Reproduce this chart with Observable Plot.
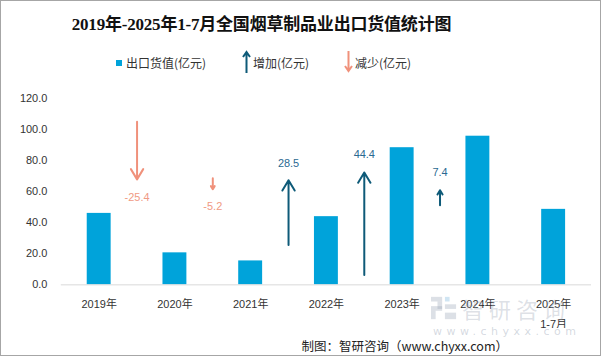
<!DOCTYPE html>
<html><head><meta charset="utf-8">
<script src="https://cdn.jsdelivr.net/npm/d3@7"></script>
<script src="https://cdn.jsdelivr.net/npm/@observablehq/plot@0.6"></script>
<style>
body{margin:0;background:#fff;}
#wrap{position:relative;width:601px;height:356px;box-sizing:border-box;border:1px solid #a6a6a6;overflow:hidden;font-family:"Noto Sans CJK SC","Noto Sans",sans-serif;}
#title{position:absolute;left:-40px;width:601px;top:9px;text-align:center;font-family:"Liberation Serif","Noto Sans CJK SC",serif;font-weight:bold;font-size:17px;color:#111;letter-spacing:-0.2px;}
.lg{position:absolute;top:53px;font-size:12px;color:#333;display:flex;align-items:center;}
#chart{position:absolute;left:0;top:88px;}
#foot{position:absolute;right:92px;top:335px;font-size:12.5px;color:#222;white-space:nowrap;}
#wm1{position:absolute;left:461px;top:293px;font-size:22px;line-height:28px;color:rgba(150,160,178,0.33);letter-spacing:5px;white-space:nowrap;}
#wm2{position:absolute;left:432px;top:324px;font-size:11px;color:rgba(150,160,178,0.4);letter-spacing:4.5px;font-family:"DejaVu Sans",sans-serif;white-space:nowrap;}
#wmlogo{position:absolute;left:430px;top:294px;width:26px;height:26px;}
</style></head>
<body><div id="wrap">
<div id="title">2019年-2025年1-7月全国烟草制品业出口货值统计图</div>
<div class="lg" style="left:115px;"><span style="display:inline-block;width:6px;height:6px;background:#00A3DA;margin-right:4px;"></span>出口货值(亿元)</div>
<div class="lg" style="left:240px;top:49px;"><svg width="11" height="24"><path d="M5.5 23 V2 M2 7 L5.5 2 L9 7" stroke="#0E5A78" stroke-width="2" fill="none"/></svg><span style="margin-left:1px;">增加(亿元)</span></div>
<div class="lg" style="left:342px;top:49px;"><svg width="11" height="24"><path d="M5.5 1 V21 M2 16 L5.5 21 L9 16" stroke="#F0917B" stroke-width="2" fill="none"/></svg><span style="margin-left:1px;">减少(亿元)</span></div>
<div id="chart"></div>
<svg id="wmlogo" viewBox="0 0 28 28"><g fill="rgba(150,160,178,0.33)"><rect x="0" y="2" width="12" height="5"/><rect x="7" y="7" width="5" height="8"/><rect x="0" y="12" width="12" height="5"/><rect x="0" y="17" width="5" height="9"/><rect x="15" y="2" width="5" height="5" fill="rgba(120,180,220,0.35)"/><rect x="15" y="10" width="12" height="5"/><rect x="15" y="19" width="12" height="7"/></g></svg>
<div id="wm1">智研咨询</div>
<div id="wm2">www.chyxx.com</div>
<div id="foot">制图：智研咨询（www.chyxx.com）</div>
</div>
<script>
const categories = ["2019年","2020年","2021年","2022年","2023年","2024年","2025年"];
const xLabels = ["2019年","2020年","2021年","2022年","2023年","2024年","2025年\n1-7月"];
const exportValues = [46.0, 20.6, 15.4, 43.9, 88.3, 95.7, 48.6];
const yTicks = [0, 20, 40, 60, 80, 100, 120];

// changes between consecutive years (arrow placed after the category listed)
const changeAfter = ["2019年","2020年","2021年","2022年","2023年"];
const changes = [-25.4, -5.2, 28.5, 44.4, 7.4];
const arrowFrom = [105.0, 68.6, 25.6, 6.4, 51.3];
const arrowTo = [67.9, 61.5, 67.3, 72.4, 60.9];
const labelAt = [56.4, 50.6, 78.2, 84.0, 72.4];

const bars = categories.map((c, i) => ({cat: c, value: exportValues[i], label: xLabels[i]}));
const arrows = changeAfter.map((c, i) => ({cat: c, change: changes[i], from: arrowFrom[i], to: arrowTo[i], ly: labelAt[i]}));
const upColor = "#0E5A78", downColor = "#F0917B";

const chart = Plot.plot({
  width: 601,
  height: 240,
  marginLeft: 60,
  marginRight: 9,
  marginTop: 9,
  marginBottom: 44,
  style: {fontFamily: "'Liberation Sans','Noto Sans CJK SC',sans-serif", fontSize: "11px", color: "#333", background: "transparent"},
  x: {domain: categories, paddingInner: 0.684, paddingOuter: 0.342, axis: null},
  y: {domain: [0, 120], ticks: yTicks, tickFormat: d3.format(".1f"), tickSize: 0, tickPadding: 14, label: null},
  marks: [
    Plot.barY(bars, {x: "cat", y: "value", fill: "#00A3DA"}),
    Plot.ruleY([0], {stroke: "#d9d9d9", strokeWidth: 1}),
    Plot.text(bars, {x: "cat", text: "label", frameAnchor: "bottom", lineAnchor: "top", dy: 9, lineHeight: 1.8, fill: "#333", fontSize: 11}),
    Plot.arrow(arrows, {x1: "cat", x2: "cat", y1: "from", y2: "to", dx: 38,
      stroke: d => d.change > 0 ? upColor : downColor, strokeWidth: 2, headLength: 9, headAngle: 62}),
    Plot.text(arrows, {x: "cat", y: "ly", dx: 38, text: d => d.change.toFixed(1),
      fill: d => d.change > 0 ? "#2A6A92" : "#F09A84", fontSize: 11})
  ]
});
document.getElementById("chart").appendChild(chart);
</script>
</body></html>
